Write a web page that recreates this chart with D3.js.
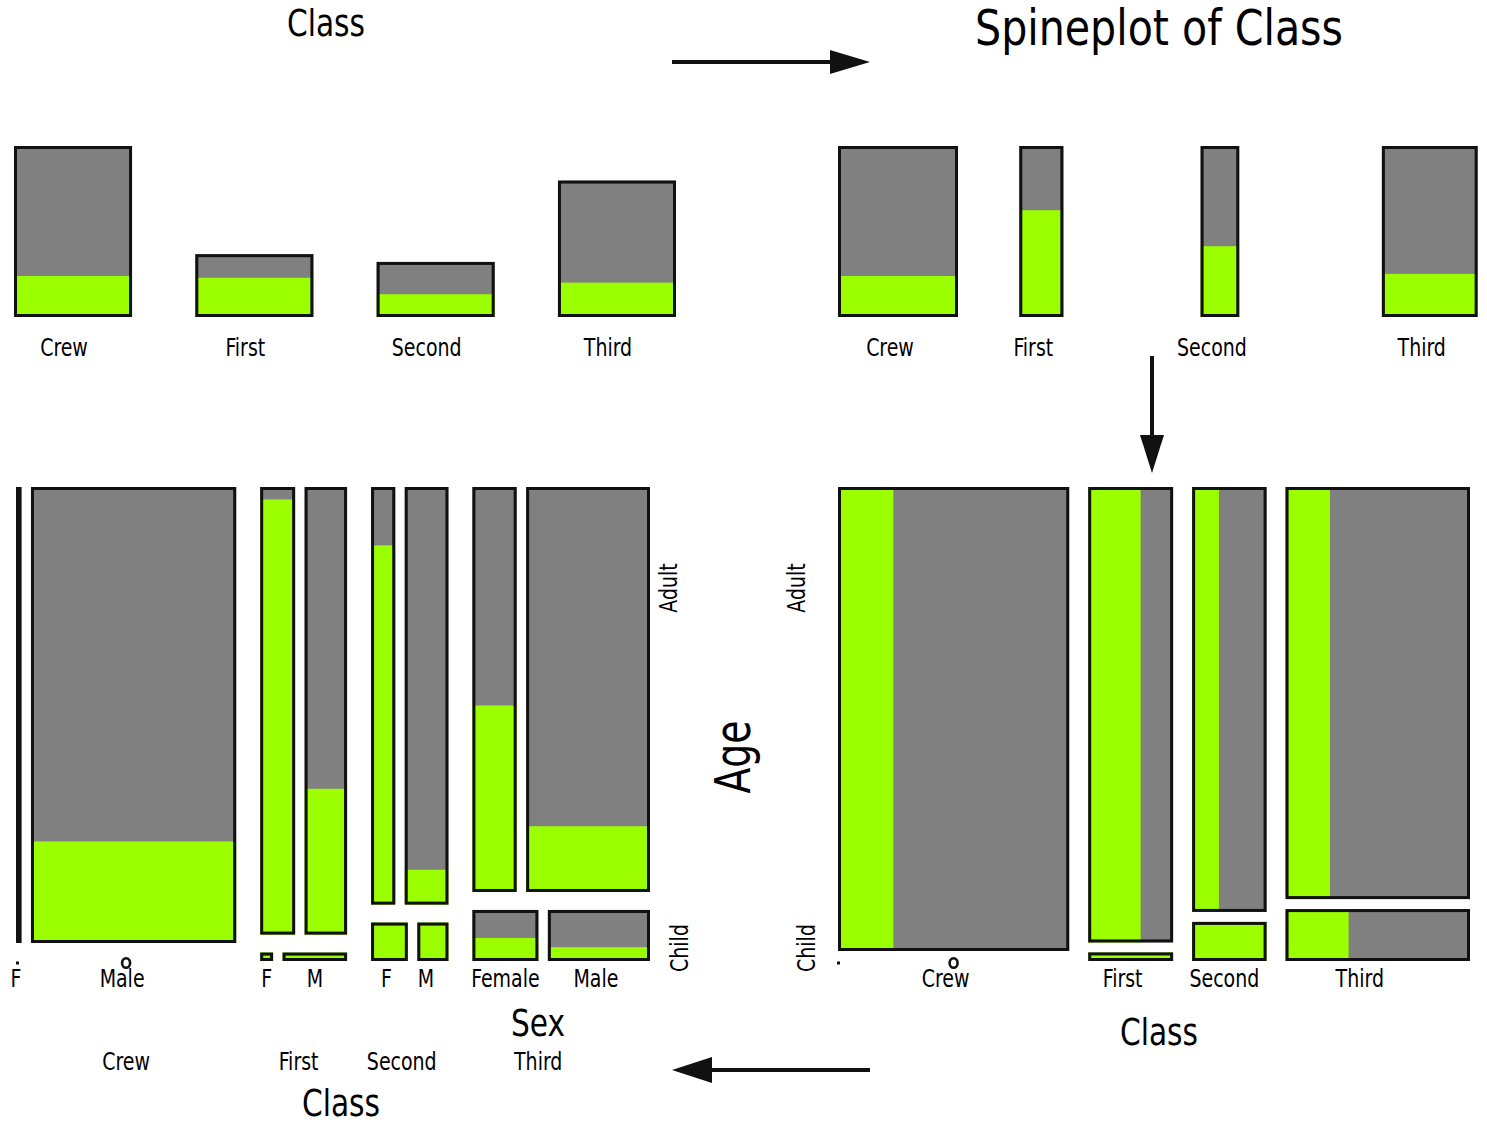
<!DOCTYPE html>
<html><head><meta charset="utf-8">
<script src="https://cdn.jsdelivr.net/npm/d3@7"></script>
<style>
html,body{margin:0;padding:0;background:#fff;}
svg text{font-family:"DejaVu Sans Condensed","DejaVu Sans",sans-serif;font-stretch:condensed;fill:#000;}
</style></head><body>
<svg id="chart" width="1487" height="1126"></svg>
<script>
// ---------------- DATA (Titanic) ----------------
const classes = ["Crew", "First", "Second", "Third"];
const ageLevels = ["Adult", "Child"];
const adultFemale = [23, 144, 93, 165];
const adultMale   = [862, 175, 168, 462];
const childFemale = [0, 1, 13, 31];
const childMale   = [0, 5, 11, 48];
const survAdultFemale = [20, 140, 80, 76];
const survAdultMale   = [192, 57, 14, 75];
const survChildFemale = [0, 1, 13, 14];
const survChildMale   = [0, 5, 11, 13];
const sexTickLabels = [["F", "Male"], ["F", "M"], ["F", "M"], ["Female", "Male"]];
const titles = {barchart: "Class", spine: "Spineplot of Class", sex: "Sex", cls: "Class", age: "Age"};

// ---------------- STYLE / LAYOUT ----------------
const GRAY = "#808080", GREEN = "#9bff00", INK = "#111";
const SW = 3;          // border width
const SQUEEZE = 0.86;  // horizontal text compression
const TICK = 24.5, AXT = 38;
// label placement nudges (layout only)
const nudgeClassD = [0, -5, -8, -23];
const nudgeClassC = [-8, -8, -5, -18];
const nudgeSexD = [[0, 0], [0, 0], [-3, -7], [0, -3]];

const svg = d3.select("#chart");

function squeeze(sel, target) {
  sel.each(function () {
    const L = this.getComputedTextLength();
    this.setAttribute("textLength", target ? target : L * SQUEEZE);
    this.setAttribute("lengthAdjust", "spacingAndGlyphs");
  });
  return sel;
}
function text(x, y, s, size, rot, target) {
  const t = svg.append("text").attr("text-anchor", "middle").attr("font-size", size).text(s);
  if (rot) t.attr("transform", `translate(${x},${y}) rotate(-90)`);
  else t.attr("x", x).attr("y", y);
  squeeze(t, target);
  return t;
}
// tile: gray box, green highlight, inset black border
function tile(g, x, y, w, h, gx, gy, gw, gh) {
  g.append("rect").attr("x", x).attr("y", y).attr("width", Math.max(w, 0)).attr("height", Math.max(h, 0)).attr("fill", GRAY);
  if (gw > 0 && gh > 0) g.append("rect").attr("x", gx).attr("y", gy).attr("width", gw).attr("height", gh).attr("fill", GREEN);
  g.append("rect").attr("x", x + SW / 2).attr("y", y + SW / 2)
    .attr("width", Math.max(w - SW, 0.01)).attr("height", Math.max(h - SW, 0.01))
    .attr("fill", "none").attr("stroke", INK).attr("stroke-width", SW);
}
function zeroMarks(g, xLeft, xMid, y) {
  g.append("rect").attr("x", xLeft - 1).attr("y", y - 1.5).attr("width", 3).attr("height", 3).attr("fill", INK);
  g.append("ellipse").attr("cx", xMid).attr("cy", y).attr("rx", 4).attr("ry", 4.8)
    .attr("fill", "none").attr("stroke", INK).attr("stroke-width", 2.6);
}
function arrow(x1, y1, x2, y2, headLen, headHalf) {
  const dx = x2 - x1, dy = y2 - y1, len = Math.hypot(dx, dy), ux = dx / len, uy = dy / len;
  const bx = x2 - ux * headLen, by = y2 - uy * headLen;
  svg.append("line").attr("x1", x1).attr("y1", y1).attr("x2", bx + ux * 2).attr("y2", by + uy * 2)
    .attr("stroke", INK).attr("stroke-width", 4);
  svg.append("path").attr("d", d3.line()([[x2, y2], [bx - uy * headHalf, by + ux * headHalf], [bx + uy * headHalf, by - ux * headHalf]]) + "Z")
    .attr("fill", INK);
}

// derived totals
const total = classes.map((c, i) => adultFemale[i] + adultMale[i] + childFemale[i] + childMale[i]);
const surv = classes.map((c, i) => survAdultFemale[i] + survAdultMale[i] + survChildFemale[i] + survChildMale[i]);
const adultTot = classes.map((c, i) => adultFemale[i] + adultMale[i]);
const childTot = classes.map((c, i) => childFemale[i] + childMale[i]);
const adultSurv = classes.map((c, i) => survAdultFemale[i] + survAdultMale[i]);
const childSurv = classes.map((c, i) => survChildFemale[i] + survChildMale[i]);
const grand = d3.sum(total);

// ---------------- PANEL A : barchart of Class ----------------
{
  const g = svg.append("g");
  const x = d3.scaleBand().domain(classes).range([14, 676]).paddingInner(0.349).paddingOuter(0);
  const y = d3.scaleLinear().domain([0, d3.max(total)]).range([317, 146]);
  classes.forEach((c, i) => {
    const x0 = x(c), w = x.bandwidth();
    tile(g, x0, y(total[i]), w, y(0) - y(total[i]), x0, y(surv[i]), w, y(0) - y(surv[i]));
    text(x0 + w / 2 - 9, 356, c, TICK);
  });
  text(326, 36, titles.barchart, AXT, false, 78);
}

// ---------------- PANEL B : spineplot of Class ----------------
{
  const g = svg.append("g");
  const slot = d3.scaleBand().domain(classes).range([838, 838 + 4 * 181.3]).padding(0);
  const wScale = d3.scaleLinear().domain([0, d3.max(total)]).range([0, 120]);
  const y = d3.scaleLinear().domain([0, 1]).range([317, 146]);
  classes.forEach((c, i) => {
    const x0 = slot(c), w = wScale(total[i]);
    tile(g, x0, y(1), w, y(0) - y(1), x0, y(surv[i] / total[i]), w, y(0) - y(surv[i] / total[i]));
    text(x0 + w / 2 - 8, 356, c, TICK);
  });
  text(1159, 45, titles.spine, 49, false, 368);
}

// ---------------- PANEL C : Class x Age, survival horizontal ----------------
{
  const g = svg.append("g");
  const X0 = 838, X1 = 1470, GX = 19, Y0 = 487, Y1 = 961, GY = 10;
  const s = (X1 - X0 - GX * (classes.length - 1)) / grand;
  const w = d3.scaleLinear().domain([0, grand]).range([0, s * grand]);
  const starts = [];
  let cx = X0;
  classes.forEach((c, i) => { starts.push(cx); cx += w(total[i]) + GX; });
  const H = Y1 - Y0 - GY;
  const hScale = d3.scaleLinear().domain([0, 1]).range([0, H]);
  classes.forEach((c, i) => {
    const x0 = starts[i], wc = w(total[i]);
    const hA = hScale(adultTot[i] / total[i]), hC = hScale(childTot[i] / total[i]);
    const fA = adultSurv[i] / adultTot[i];
    tile(g, x0, Y0, wc, hA, x0, Y0, wc * fA, hA);
    if (childTot[i] > 0) {
      const fC = childSurv[i] / childTot[i];
      tile(g, x0, Y1 - hC, wc, hC, x0, Y1 - hC, wc * fC, hC);
    } else {
      zeroMarks(g, x0, x0 + wc / 2, 963);
    }
    text(x0 + wc / 2 + nudgeClassC[i], 987, c, TICK);
  });
  text(1159, 1045, titles.cls, AXT, false, 78);
  text(805, 588, ageLevels[0], TICK, true);
  text(815, 948, ageLevels[1], TICK, true);
}

// ---------------- PANEL D : Class x Age x Sex, survival vertical ----------------
{
  const g = svg.append("g");
  const X0 = 16, X1 = 650, GIN = 9.5, GOUT = 24, Y0 = 487, Y1 = 961, GY = 18;
  const s = (X1 - X0 - GIN * classes.length - GOUT * (classes.length - 1)) / grand;
  const w = d3.scaleLinear().domain([0, grand]).range([0, s * grand]);
  const starts = [];
  let cx = X0;
  classes.forEach((c, i) => { starts.push(cx); cx += w(total[i]) + GIN + GOUT; });
  const H = Y1 - Y0 - GY;
  const hScale = d3.scaleLinear().domain([0, 1]).range([0, H]);
  classes.forEach((c, i) => {
    const x0 = starts[i], span = w(total[i]) + GIN, avail = span - GIN;
    const hA = hScale(adultTot[i] / total[i]), hC = hScale(childTot[i] / total[i]);
    const rows = [
      {n: [adultFemale[i], adultMale[i]], sv: [survAdultFemale[i], survAdultMale[i]], top: Y0, h: hA},
      {n: [childFemale[i], childMale[i]], sv: [survChildFemale[i], survChildMale[i]], top: Y1 - hC, h: hC}
    ];
    const centers = [[], []];
    rows.forEach((r, ri) => {
      const tot = r.n[0] + r.n[1];
      if (tot === 0) return;
      const ws = d3.scaleLinear().domain([0, tot]).range([0, avail]);
      let xx = x0;
      r.n.forEach((n, si) => {
        const tw = ws(n);
        const f = n > 0 ? r.sv[si] / n : 0;
        tile(g, xx, r.top, tw, r.h, xx, r.top + r.h * (1 - f), tw, r.h * f);
        centers[ri].push(xx + tw / 2);
        xx += tw + GIN;
      });
    });
    let lc;
    if (childTot[i] === 0) {
      zeroMarks(g, x0 + 1, x0 + span / 2, 963);
      lc = [x0, x0 + span / 2 - 4];
    } else {
      lc = centers[1];
    }
    sexTickLabels[i].forEach((lab, si) => text(lc[si] + nudgeSexD[i][si], 987, lab, TICK));
    text(x0 + span / 2 + nudgeClassD[i], 1070, c, TICK);
  });
  text(538, 1036, titles.sex, AXT, false, 54);
  text(341, 1116, titles.cls, AXT, false, 78);
  text(677, 588, ageLevels[0], TICK, true);
  text(688, 948, ageLevels[1], TICK, true);
  text(750, 757, titles.age, 49, true, 73);
}

// ---------------- ARROWS ----------------
arrow(672, 62, 870, 62, 40, 12);
arrow(1152, 356, 1152, 473, 38, 12);
arrow(870, 1070, 672, 1070, 40, 13);
</script>
</body></html>
